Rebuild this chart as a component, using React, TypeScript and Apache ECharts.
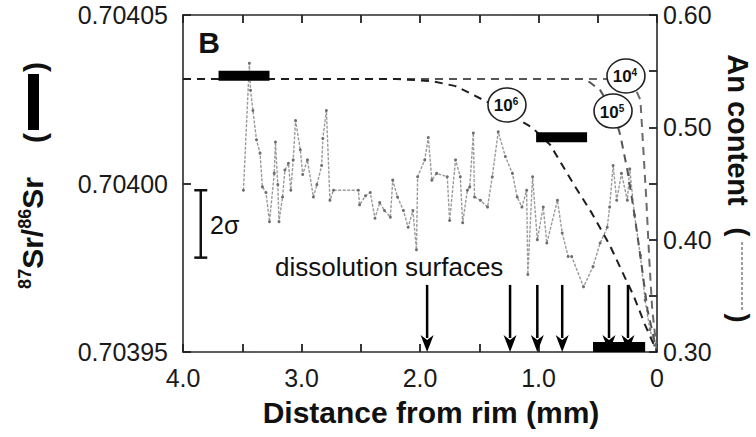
import React, { useEffect, useRef } from "react";
import * as echarts from "echarts";

// ---- data ----
const anDistance = [3.49,3.44,3.43,3.41,3.38,3.35,3.33,3.30,3.27,3.23,3.22,3.20,3.19,3.16,3.14,3.11,3.09,3.07,3.05,3.01,2.99,2.95,2.90,2.87,2.83,2.82,2.79,2.76,2.73,2.52,2.51,2.46,2.42,2.38,2.34,2.30,2.25,2.23,2.19,2.14,2.10,2.06,2.03,2.02,1.96,1.93,1.90,1.86,1.77,1.75,1.70,1.66,1.64,1.60,1.58,1.55,1.54,1.49,1.43,1.39,1.34,1.28,1.22,1.18,1.14,1.10,1.09,1.05,1.01,0.96,0.93,0.84,0.80,0.75,0.72,0.62,0.54,0.48,0.42,0.40,0.37,0.34,0.30,0.25,0.23,0.19,0.14,0.10,0.06,0.02];
const anContent = [0.444,0.557,0.533,0.515,0.489,0.477,0.447,0.442,0.416,0.459,0.487,0.449,0.416,0.438,0.462,0.468,0.444,0.471,0.506,0.480,0.458,0.471,0.438,0.449,0.466,0.490,0.515,0.435,0.444,0.444,0.431,0.439,0.442,0.419,0.433,0.426,0.420,0.453,0.438,0.426,0.411,0.426,0.391,0.456,0.471,0.491,0.453,0.459,0.456,0.417,0.471,0.456,0.415,0.444,0.447,0.495,0.438,0.435,0.429,0.456,0.496,0.474,0.459,0.438,0.429,0.444,0.369,0.456,0.400,0.429,0.397,0.435,0.406,0.385,0.385,0.358,0.376,0.397,0.411,0.429,0.466,0.435,0.459,0.435,0.463,0.422,0.386,0.346,0.320,0.306];

const srBarStart = [3.70, 1.02, 0.54];
const srBarEnd = [3.27, 0.59, 0.10];
const srBarValue = [0.704032, 0.7040137, 0.7039515];

const m6Distance = [4.0, 2.2, 1.9, 1.7, 1.55, 1.3, 1.05, 0.9, 0.8, 0.7, 0.55, 0.4, 0.3, 0.2, 0.1, 0];
const m6Sr = [0.704031, 0.704031, 0.7040304, 0.7040289, 0.7040263, 0.7040218, 0.7040165, 0.7040114, 0.7040055, 0.7039996, 0.7039912, 0.7039818, 0.7039743, 0.7039669, 0.703958, 0.70395];
const m5Distance = [4.0, 0.62, 0.57, 0.48, 0.37, 0.31, 0.25, 0.19, 0.13, 0.08, 0];
const m5Sr = [0.704031, 0.704031, 0.7040301, 0.7040277, 0.7040215, 0.7040144, 0.704004, 0.7039907, 0.7039758, 0.7039625, 0.70395];
const m4Distance = [4.0, 0.22, 0.14, 0.12, 0.09, 0.065, 0.04, 0];
const m4Sr = [0.704031, 0.704031, 0.7040248, 0.7040129, 0.7039951, 0.7039773, 0.7039625, 0.70395];

const labelExp = ["6", "5", "4"];
const labelDistance = [1.266, 0.371, 0.262];
const labelSr = [0.7040233, 0.7040215, 0.7040319];

const dissolutionDistance = [1.94, 1.24, 1.01, 0.80, 0.405, 0.245];
const arrowTopSr = 0.7039699;
const arrowTipSr = 0.70395;

const errorBarDistance = [3.85];
const errorBarLow = [0.703978];
const errorBarHigh = [0.703998];

const xTickLabels = ["4.0", "3.0", "2.0", "1.0", "0"];

const SANS = "'Liberation Sans', Arial, sans-serif";

export default function App() {
  const ref = useRef<HTMLDivElement>(null);
  useEffect(() => {
    const chart = echarts.init(ref.current!, null, { renderer: "svg" });
    const axisLine = { show: true, onZero: false, lineStyle: { color: "#2a2a2a", width: 1.6 } };
    const tick = { show: true, inside: true, length: 8, lineStyle: { color: "#222", width: 1.8 } };
    const xCommon = {
      type: "value",
      min: 0,
      max: 4,
      interval: 0.5,
      inverse: true,
      splitLine: { show: false },
      axisLine,
      axisTick: tick,
    };
    const option: any = {
      animation: false,
      backgroundColor: "#ffffff",
      grid: { left: 183, right: 99, top: 15, bottom: 85 },
      xAxis: [
        {
          ...xCommon,
          position: "bottom",
          axisLabel: {
            margin: 13,
            fontFamily: SANS,
            fontSize: 25,
            color: "#1a1a1a",
            formatter: (v: number) => {
              if (Math.abs(v - Math.round(v)) > 1e-9) return "";
              return xTickLabels[4 - Math.round(v)];
            },
          },
        },
        { ...xCommon, position: "top", axisLabel: { show: false } },
      ],
      yAxis: [
        {
          type: "value",
          position: "left",
          min: 0.70395,
          max: 0.70405,
          interval: 0.00005,
          splitLine: { show: false },
          axisLine,
          axisTick: tick,
          axisLabel: {
            margin: 15,
            fontFamily: SANS,
            fontSize: 25,
            color: "#1a1a1a",
            formatter: (v: number) => v.toFixed(5),
          },
        },
        {
          type: "value",
          position: "right",
          min: 0.3,
          max: 0.6,
          interval: 0.05,
          splitLine: { show: false },
          axisLine,
          axisTick: tick,
          axisLabel: {
            margin: 6,
            fontFamily: SANS,
            fontSize: 25,
            color: "#1a1a1a",
            formatter: (v: number) => (Math.round(v * 100) % 10 === 0 ? v.toFixed(2) : ""),
          },
        },
      ],
      series: [
        {
          name: "An content",
          type: "line",
          yAxisIndex: 1,
          data: anDistance.map((d, i) => [d, anContent[i]]),
          symbol: "circle",
          symbolSize: 3,
          itemStyle: { color: "#6e6e6e" },
          lineStyle: { color: "#9a9a9a", width: 1.4, type: [3, 1.5] },
          z: 2,
        },
        {
          name: "1e4",
          type: "line",
          yAxisIndex: 0,
          data: m4Distance.map((d, i) => [d, m4Sr[i]]),
          symbol: "none",
          lineStyle: { color: "#6a6a6a", width: 2, type: [8, 6] },
          z: 3,
        },
        {
          name: "1e5",
          type: "line",
          yAxisIndex: 0,
          data: m5Distance.map((d, i) => [d, m5Sr[i]]),
          symbol: "none",
          lineStyle: { color: "#555", width: 2, type: [8, 6] },
          z: 3,
        },
        {
          name: "1e6",
          type: "line",
          yAxisIndex: 0,
          data: m6Distance.map((d, i) => [d, m6Sr[i]]),
          symbol: "none",
          lineStyle: { color: "#1e1e1e", width: 2, type: [8, 6] },
          z: 4,
        },
        {
          name: "Sr",
          type: "custom",
          yAxisIndex: 0,
          data: srBarStart.map((s, i) => [s, srBarEnd[i], srBarValue[i]]),
          encode: { x: [0, 1], y: 2 },
          z: 5,
          renderItem: (params: any, api: any) => {
            const p1 = api.coord([api.value(0), api.value(2)]);
            const p2 = api.coord([api.value(1), api.value(2)]);
            const h = 10;
            return {
              type: "rect",
              shape: { x: Math.min(p1[0], p2[0]), y: p1[1] - h / 2, width: Math.abs(p2[0] - p1[0]), height: h },
              style: { fill: "#000" },
            };
          },
        },
        {
          name: "arrows",
          type: "custom",
          yAxisIndex: 0,
          data: dissolutionDistance.map((d) => [d, arrowTopSr, arrowTipSr]),
          encode: { x: 0, y: [1, 2] },
          z: 6,
          renderItem: (params: any, api: any) => {
            const top = api.coord([api.value(0), api.value(1)]);
            const tip = api.coord([api.value(0), api.value(2)]);
            const hh = 17, hw = 6.5;
            return {
              type: "group",
              children: [
                { type: "line", shape: { x1: top[0], y1: top[1], x2: tip[0], y2: tip[1] - hh + 3 }, style: { stroke: "#000", lineWidth: 2.5 } },
                {
                  type: "polygon",
                  shape: { points: [[tip[0] - hw, tip[1] - hh], [tip[0], tip[1] - hh + 5], [tip[0] + hw, tip[1] - hh], [tip[0], tip[1]]] },
                  style: { fill: "#000" },
                },
              ],
            };
          },
        },
        {
          name: "2sigma",
          type: "custom",
          yAxisIndex: 0,
          data: errorBarDistance.map((d, i) => [d, errorBarLow[i], errorBarHigh[i]]),
          encode: { x: 0, y: [1, 2] },
          z: 6,
          renderItem: (params: any, api: any) => {
            const lo = api.coord([api.value(0), api.value(1)]);
            const hi = api.coord([api.value(0), api.value(2)]);
            const cw = 6.5;
            const st = { stroke: "#111", lineWidth: 2.5 };
            return {
              type: "group",
              children: [
                { type: "line", shape: { x1: lo[0], y1: lo[1], x2: hi[0], y2: hi[1] }, style: st },
                { type: "line", shape: { x1: lo[0] - cw, y1: lo[1], x2: lo[0] + cw, y2: lo[1] }, style: st },
                { type: "line", shape: { x1: hi[0] - cw, y1: hi[1], x2: hi[0] + cw, y2: hi[1] }, style: st },
              ],
            };
          },
        },
        {
          name: "labels",
          type: "custom",
          yAxisIndex: 0,
          data: labelDistance.map((d, i) => [d, labelSr[i]]),
          encode: { x: 0, y: 1 },
          z: 10,
          renderItem: (params: any, api: any) => {
            const c = api.coord([api.value(0), api.value(1)]);
            const exp = labelExp[params.dataIndex];
            return {
              type: "group",
              children: [
                { type: "ellipse", shape: { cx: c[0], cy: c[1], rx: 19, ry: 17 }, style: { fill: "#fff", stroke: "#222", lineWidth: 1.6 } },
                {
                  type: "text",
                  x: c[0] - 1,
                  y: c[1] + 1,
                  style: {
                    text: `{b|10}{s|${exp}}`,
                    align: "center",
                    verticalAlign: "middle",
                    rich: {
                      b: { fontFamily: SANS, fontSize: 17, fontWeight: "bold", fill: "#111", lineHeight: 18 },
                      s: { fontFamily: SANS, fontSize: 10, fontWeight: "bold", fill: "#111", verticalAlign: "top", lineHeight: 18 },
                    },
                  },
                },
              ],
            };
          },
        },
      ],
      graphic: [
        { type: "text", x: 209, y: 42, style: { text: "B", fontFamily: SANS, fontSize: 30, fontWeight: "bold", fill: "#111", align: "center", verticalAlign: "middle" } },
        { type: "text", x: 210, y: 225, style: { text: "2σ", fontFamily: SANS, fontSize: 25, fill: "#111", align: "left", verticalAlign: "middle" } },
        { type: "text", x: 275, y: 267, style: { text: "dissolution surfaces", fontFamily: SANS, fontSize: 26, fill: "#111", align: "left", verticalAlign: "middle" } },
        { type: "text", x: 431, y: 412, style: { text: "Distance from rim (mm)", fontFamily: SANS, fontSize: 30, fontWeight: "bold", fill: "#111", align: "center", verticalAlign: "middle" } },
        // left axis title
        {
          type: "text",
          x: 32,
          y: 233,
          rotation: Math.PI / 2,
          style: {
            text: "{s|87}{m|Sr/}{s|86}{m|Sr}",
            align: "center",
            verticalAlign: "middle",
            rich: {
              m: { fontFamily: SANS, fontSize: 30, fontWeight: "bold", fill: "#111", lineHeight: 32 },
              s: { fontFamily: SANS, fontSize: 18, fontWeight: "bold", fill: "#111", verticalAlign: "top", lineHeight: 32 },
            },
          },
        },
        { type: "text", x: 34, y: 138, rotation: Math.PI / 2, style: { text: "(", fontFamily: SANS, fontSize: 30, fontWeight: "bold", fill: "#111", align: "center", verticalAlign: "middle" } },
        { type: "text", x: 34, y: 67, rotation: Math.PI / 2, style: { text: ")", fontFamily: SANS, fontSize: 30, fontWeight: "bold", fill: "#111", align: "center", verticalAlign: "middle" } },
        { type: "rect", shape: { x: 28, y: 74, width: 11, height: 56 }, style: { fill: "#000" } },
        // right axis title
        { type: "text", x: 738, y: 130, rotation: -Math.PI / 2, style: { text: "An content", fontFamily: SANS, fontSize: 29, fontWeight: "bold", fill: "#111", align: "center", verticalAlign: "middle" } },
        { type: "text", x: 739, y: 232, rotation: -Math.PI / 2, style: { text: "(", fontFamily: SANS, fontSize: 27, fontWeight: "bold", fill: "#111", align: "center", verticalAlign: "middle" } },
        { type: "text", x: 739, y: 318, rotation: -Math.PI / 2, style: { text: ")", fontFamily: SANS, fontSize: 27, fontWeight: "bold", fill: "#111", align: "center", verticalAlign: "middle" } },
        { type: "line", shape: { x1: 742, y1: 242, x2: 742, y2: 310 }, style: { stroke: "#777", lineWidth: 1.4, lineDash: [3, 2] } },
      ],
    };
    chart.setOption(option);
    return () => chart.dispose();
  }, []);
  return (
    <div
      ref={ref}
      style={{ position: "absolute", left: 0, top: 0, width: 756, height: 437, background: "#fff" }}
    />
  );
}
